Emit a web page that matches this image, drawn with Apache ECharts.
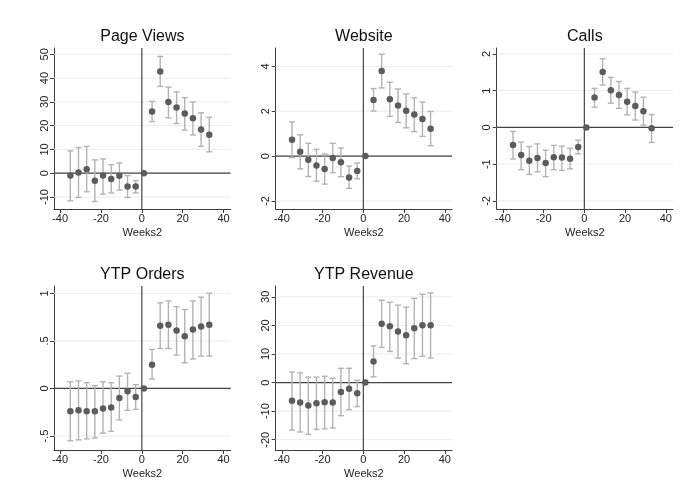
<!DOCTYPE html>
<html><head><meta charset="utf-8">
<script src="https://cdn.jsdelivr.net/npm/echarts@6/dist/echarts.min.js"></script>
<style>html,body{margin:0;padding:0;background:#fff}#c{width:684px;height:502px}</style>
</head><body><div id="c"></div>
<script>
// ---- data ----
const weeks = [-35,-31,-27,-23,-19,-15,-11,-7,-3,1,5,9,13,17,21,25,29,33];

const pvCoef = [-1.0,0.3,1.7,-3.2,-1.0,-2.4,-1.1,-5.6,-5.6,0,25.9,42.8,29.9,27.6,25.1,23.1,18.4,16.2];
const pvLo   = [-11.6,-10.2,-7.8,-11.9,-8.8,-8.3,-7.1,-10.2,-8.3,0,21.7,36.5,23.3,20.9,18.1,16.1,11.3,9.0];
const pvHi   = [9.4,10.8,11.3,5.6,6.0,3.6,4.3,-1.0,-3.1,0,30.2,49.1,36.2,34.2,31.8,30.0,25.4,23.5];

const webCoef = [0.73,0.19,-0.16,-0.42,-0.58,-0.09,-0.27,-0.95,-0.67,0,2.50,3.79,2.54,2.26,2.02,1.85,1.65,1.22];
const webLo   = [-0.07,-0.57,-0.91,-1.12,-1.25,-0.74,-0.92,-1.44,-1.01,0,2.01,3.04,1.77,1.50,1.26,1.09,0.88,0.46];
const webHi   = [1.52,0.95,0.57,0.30,0.09,0.57,0.36,-0.45,-0.31,0,3.01,4.54,3.29,2.99,2.77,2.60,2.41,1.99];

const callsCoef = [-0.48,-0.75,-0.91,-0.83,-0.97,-0.81,-0.82,-0.85,-0.53,0,0.81,1.51,1.01,0.88,0.70,0.58,0.44,-0.02];
const callsLo   = [-0.86,-1.15,-1.28,-1.21,-1.34,-1.15,-1.17,-1.13,-0.72,0,0.55,1.15,0.66,0.52,0.34,0.20,0.06,-0.41];
const callsHi   = [-0.11,-0.40,-0.52,-0.45,-0.62,-0.49,-0.51,-0.57,-0.35,0,1.06,1.87,1.36,1.25,1.06,0.96,0.82,0.35];

const ordCoef = [-0.24,-0.23,-0.24,-0.24,-0.21,-0.20,-0.10,-0.03,-0.09,0,0.25,0.66,0.67,0.61,0.55,0.62,0.65,0.67];
const ordLo   = [-0.55,-0.54,-0.53,-0.52,-0.47,-0.45,-0.33,-0.23,-0.22,0,0.10,0.42,0.42,0.35,0.27,0.31,0.34,0.34];
const ordHi   = [0.07,0.08,0.06,0.03,0.07,0.06,0.13,0.16,0.04,0,0.41,0.90,0.92,0.86,0.83,0.92,0.96,1.00];

const revCoef = [-6.4,-7.0,-8.0,-7.2,-6.9,-7.0,-3.3,-2.2,-3.7,0,7.4,20.6,19.7,17.9,16.6,19.0,20.1,20.1];
const revLo   = [-16.6,-17.3,-18.1,-16.4,-16.2,-15.9,-11.6,-9.5,-8.4,0,2.0,12.3,10.9,8.6,6.6,8.4,9.2,8.6];
const revHi   = [3.7,3.4,1.9,1.9,2.2,1.5,5.0,5.0,0.8,0,12.8,28.8,28.1,27.1,26.4,29.5,30.9,31.4];

const titles = ['Page Views','Website','Calls','YTP Orders','YTP Revenue'];
const xTitle = 'Weeks2';
const xTicks = [-40,-20,0,20,40];
const xTickLabels = ['-40','-20','0','20','40'];
const pvYTicks = [-10,0,10,20,30,40,50];
const pvYLabels = ['-10','0','10','20','30','40','50'];
const webYTicks = [-2,0,2,4];
const webYLabels = ['-2','0','2','4'];
const callsYTicks = [-2,-1,0,1,2];
const callsYLabels = ['-2','-1','0','1','2'];
const ordYTicks = [-0.5,0,0.5,1];
const ordYLabels = ['-.5','0','.5','1'];
const revYTicks = [-20,-10,0,10,20,30];
const revYLabels = ['-20','-10','0','10','20','30'];

// ---- layout / style ----
const FONT = '"Liberation Sans", Arial, sans-serif';
const dotColor = '#5c5c5c';
const ciColor = '#b3b3b3';
const axisColor = '#3c3c3c';
const refColor = '#444444';
const gridColor = '#ececec';

const panels = [
  {coef: pvCoef, lo: pvLo, hi: pvHi, yt: pvYTicks, yl: pvYLabels, ymin: -15.05, ymax: 52.65, box: [54, 48, 176.7, 161]},
  {coef: webCoef, lo: webLo, hi: webHi, yt: webYTicks, yl: webYLabels, ymin: -2.36, ymax: 4.82, box: [275.7, 48, 176.3, 161]},
  {coef: callsCoef, lo: callsLo, hi: callsHi, yt: callsYTicks, yl: callsYLabels, ymin: -2.22, ymax: 2.16, box: [496.7, 48, 176.3, 161]},
  {coef: ordCoef, lo: ordLo, hi: ordHi, yt: ordYTicks, yl: ordYLabels, ymin: -0.647, ymax: 1.077, box: [54, 286, 176.7, 164]},
  {coef: revCoef, lo: revLo, hi: revHi, yt: revYTicks, yl: revYLabels, ymin: -23.6, ymax: 33.8, box: [275.7, 286, 176.3, 164]}
];

function renderCI(params, api) {
  const x = api.value(0), lo = api.value(1), hi = api.value(2);
  if (lo === hi) return null;
  const a = api.coord([x, lo]), b = api.coord([x, hi]);
  const hw = 3;
  const style = {stroke: ciColor, lineWidth: 1.4, fill: null};
  return {type: 'group', children: [
    {type: 'line', shape: {x1: a[0], y1: a[1], x2: b[0], y2: b[1]}, style: style},
    {type: 'line', shape: {x1: a[0]-hw, y1: a[1], x2: a[0]+hw, y2: a[1]}, style: style},
    {type: 'line', shape: {x1: b[0]-hw, y1: b[1], x2: b[0]+hw, y2: b[1]}, style: style}
  ]};
}
function renderGridLine(params, api) {
  const cs = params.coordSys;
  const y = api.coord([0, api.value(1)])[1];
  return {type: 'line', shape: {x1: cs.x, y1: y, x2: cs.x + cs.width, y2: y},
    style: {stroke: gridColor, lineWidth: 1, fill: null}};
}
function renderRefLines(params, api) {
  const cs = params.coordSys;
  const p = api.coord([api.value(0), api.value(1)]);
  const style = {stroke: refColor, lineWidth: 1.2, fill: null};
  return {type: 'group', children: [
    {type: 'line', shape: {x1: cs.x, y1: p[1], x2: cs.x + cs.width, y2: p[1]}, style: style},
    {type: 'line', shape: {x1: p[0], y1: cs.y, x2: p[0], y2: cs.y + cs.height}, style: style}
  ]};
}

const grid = [], xAxis = [], yAxis = [], series = [], title = [];
panels.forEach(function (p, i) {
  const [l, t, w, h] = p.box;
  grid.push({left: l, top: t, width: w, height: h, containLabel: false});
  title.push({text: titles[i], left: l + w / 2, top: t - 19, textAlign: 'center', padding: 0,
    textStyle: {fontFamily: FONT, fontSize: 16, fontWeight: 'normal', color: '#111'}});
  xAxis.push({type: 'value', gridIndex: i, min: -43, max: 43.5,
    name: xTitle, nameLocation: 'middle', nameGap: 18,
    nameTextStyle: {fontFamily: FONT, fontSize: 11, color: '#222'},
    axisLine: {show: true, onZero: false, lineStyle: {color: axisColor, width: 1}},
    axisTick: {show: true, length: 4, customValues: xTicks, lineStyle: {color: axisColor}},
    axisLabel: {show: true, margin: 4, customValues: xTicks, fontFamily: FONT, fontSize: 11, color: '#222',
      formatter: function (v) { const k = xTicks.indexOf(v); return k >= 0 ? xTickLabels[k] : ''; }},
    splitLine: {show: false}
  });
  yAxis.push({type: 'value', gridIndex: i, min: p.ymin, max: p.ymax,
    axisLine: {show: true, onZero: false, lineStyle: {color: axisColor, width: 1}},
    axisTick: {show: true, length: 4, customValues: p.yt, lineStyle: {color: axisColor}},
    axisLabel: {show: true, margin: 4, rotate: 90, customValues: p.yt, fontFamily: FONT, fontSize: 11, color: '#222',
      formatter: function (v) {
        let k = -1;
        p.yt.forEach(function (tv, j) { if (Math.abs(tv - v) < 1e-9) k = j; });
        return k >= 0 ? p.yl[k] : '';
      }},
    splitLine: {show: false}
  });
  // horizontal gridlines at y ticks
  series.push({type: 'custom', xAxisIndex: i, yAxisIndex: i, z: 1, silent: true,
    renderItem: renderGridLine,
    data: p.yt.map(function (v) { return [0, v]; })
  });
  // reference lines at x = 0 and y = 0
  series.push({type: 'custom', xAxisIndex: i, yAxisIndex: i, z: 2, silent: true,
    renderItem: renderRefLines,
    data: [[0, 0]]
  });
  // confidence intervals with caps
  series.push({type: 'custom', xAxisIndex: i, yAxisIndex: i, z: 3, silent: true,
    renderItem: renderCI,
    data: weeks.map(function (wk, j) { return [wk, p.lo[j], p.hi[j]]; })
  });
  // point estimates
  series.push({type: 'scatter', xAxisIndex: i, yAxisIndex: i, z: 4, silent: true,
    symbol: 'circle', symbolSize: 6.5,
    itemStyle: {color: dotColor, opacity: 1},
    data: weeks.map(function (wk, j) { return [wk, p.coef[j]]; })
  });
});

const chart = echarts.init(document.getElementById('c'), null, {renderer: 'canvas'});
chart.setOption({backgroundColor: '#ffffff', animation: false, title: title, grid: grid, xAxis: xAxis, yAxis: yAxis, series: series});
</script>
</body></html>
